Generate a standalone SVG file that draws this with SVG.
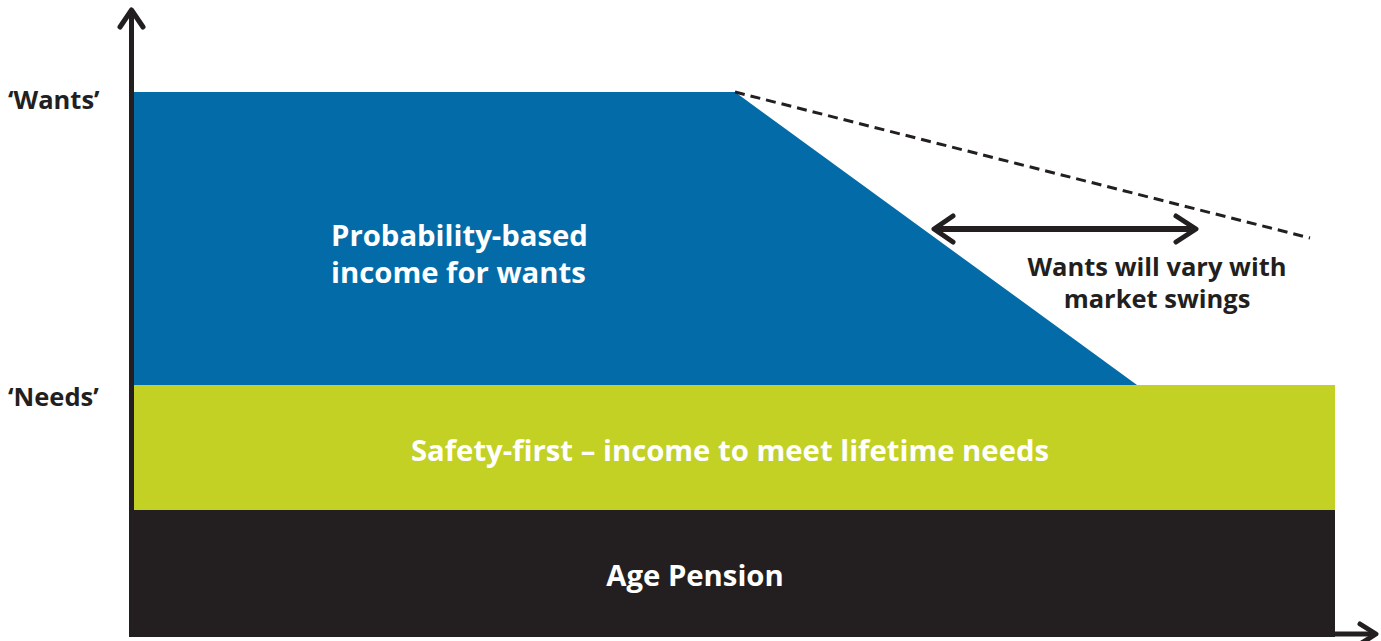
<svg xmlns="http://www.w3.org/2000/svg" width="1381" height="641" viewBox="0 0 1381 641">
<style>
text{font-family:"Open Sans","Noto Sans","Liberation Sans",sans-serif;font-weight:bold}
.w{fill:#ffffff;font-size:29.3px}
.k{fill:#231f20;font-size:25.5px}
.ax{stroke:#231f20;stroke-width:5;fill:none}
.ah{stroke:#231f20;stroke-width:5;fill:none;stroke-linecap:round;stroke-linejoin:round}
</style>
<rect width="1381" height="641" fill="#ffffff"/>
<g id="wants">
<polygon points="134,92 735,92 1137,385 134,385" fill="#036ca8"/>
<text class="w" x="331" y="246">Probability-based</text>
<text class="w" x="331" y="283">income for wants</text>
</g>
<g id="needs">
<rect x="134" y="385" width="1201" height="125" fill="#c2d124"/>
<text class="w" x="730" y="461" text-anchor="middle">Safety-first – income to meet lifetime needs</text>
</g>
<g id="pension">
<rect x="129" y="510" width="1206" height="127" fill="#231f20"/>
<text class="w" x="695" y="586" text-anchor="middle">Age Pension</text>
</g>
<g id="labels">
<text class="k" x="8" y="109">‘Wants’</text>
<text class="k" x="8" y="406">‘Needs’</text>
<text class="k" x="1157" y="276" text-anchor="middle">Wants will vary with</text>
<text class="k" x="1157" y="308" text-anchor="middle">market swings</text>
</g>
<g id="connectors">
<line class="ax" x1="131.5" y1="637" x2="131.5" y2="10"/>
<polyline class="ah" points="120,27 131.5,10 143,27"/>
<line class="ax" x1="1335" y1="634" x2="1375" y2="634"/>
<polyline class="ah" points="1360,624 1376,634 1360,644"/>
<line x1="735" y1="92" x2="1310" y2="238" stroke="#231f20" stroke-width="3" stroke-dasharray="10,6"/>
<line x1="934" y1="229" x2="1194" y2="229" stroke="#231f20" stroke-width="6"/>
<polyline class="ah" points="953,216 934,229 953,242" stroke-width="6"/>
<polyline class="ah" points="1176,216 1196,229 1176,242" stroke-width="6"/>
</g>
</svg>
